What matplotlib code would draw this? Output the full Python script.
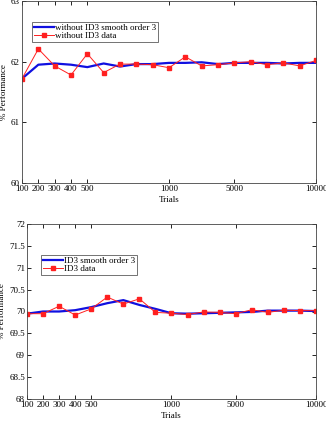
import matplotlib
matplotlib.use("Agg")
import matplotlib.pyplot as plt
import numpy as np

plt.rcParams['font.family'] = ['Liberation Serif', 'DejaVu Serif']

tick_labels = ['100', '200', '300', '400', '500', '1000', '5000', '10000']
tick_idx = [0, 1, 2, 3, 4, 9, 13, 18]

top_data = [61.72, 62.21, 61.93, 61.78, 62.13, 61.82, 61.96, 61.96, 61.95, 61.90,
            62.08, 61.93, 61.95, 61.98, 62.00, 61.95, 61.98, 61.93, 62.02]
top_smooth = [61.72, 61.95, 61.97, 61.95, 61.91, 61.97, 61.92, 61.96, 61.96, 61.98,
              61.98, 61.99, 61.96, 61.98, 61.98, 61.98, 61.97, 61.98, 61.98]

bot_data = [69.95, 69.95, 70.12, 69.92, 70.06, 70.33, 70.17, 70.29, 69.98, 69.96,
            69.93, 69.99, 69.98, 69.95, 70.04, 69.98, 70.03, 70.02, 70.02]
bot_smooth = [69.95, 70.00, 70.00, 70.03, 70.10, 70.19, 70.26, 70.15, 70.06, 69.96,
              69.95, 69.96, 69.97, 69.98, 69.99, 70.02, 70.02, 70.02, 70.01]

fig = plt.figure(figsize=(3.26, 4.24), dpi=100)
ax1 = fig.add_axes([22/326, 1-183/424, 294/326, 182/424])
ax2 = fig.add_axes([27/326, 1-399/424, 289/326, 175/424])

fs = 6.5

def style(ax, smooth, data, lab_s, lab_d, ylim, yticks, yticklabels, leg_bbox):
    x = np.arange(len(data))
    ax.plot(x, smooth, color='#1010e0', lw=1.6, label=lab_s)
    ax.plot(x, data, color='#ff2020', lw=0.7, marker='s', ms=2.4, label=lab_d)
    ax.set_xlim(0, len(data) - 1)
    ax.set_ylim(*ylim)
    ax.set_xticks(tick_idx)
    ax.set_xticklabels(tick_labels, fontsize=fs)
    ax.set_yticks(yticks)
    ax.set_yticklabels(yticklabels, fontsize=fs)
    ax.tick_params(direction='in', top=True, right=True, length=3, width=0.6, pad=1.5)
    for s in ax.spines.values():
        s.set_linewidth(0.6)
        s.set_color('#444444')
    ax.set_xlabel('Trials', fontsize=fs, labelpad=2)
    ax.set_ylabel('% Performance', fontsize=fs, labelpad=2)
    leg = ax.legend(loc='upper left', bbox_to_anchor=leg_bbox, fontsize=fs,
                    frameon=True, fancybox=False, edgecolor='#333333',
                    borderpad=0.2, labelspacing=0.0, handlelength=2.2,
                    handletextpad=0.2, borderaxespad=0)
    leg.get_frame().set_linewidth(0.6)

style(ax1, top_smooth, top_data, 'without ID3 smooth order 3', 'without ID3 data',
      (60, 63), [60, 61, 62, 63], ['60', '61', '62', '63'], (10/294, 1 - 21/182))
style(ax2, bot_smooth, bot_data, 'ID3 smooth order 3', 'ID3 data',
      (68, 72), [68, 68.5, 69, 69.5, 70, 70.5, 71, 71.5, 72],
      ['68', '68.5', '69', '69.5', '70', '70.5', '71', '71.5', '72'], (14/289, 1 - 31/175))

fig.savefig('out.png', dpi=100)
